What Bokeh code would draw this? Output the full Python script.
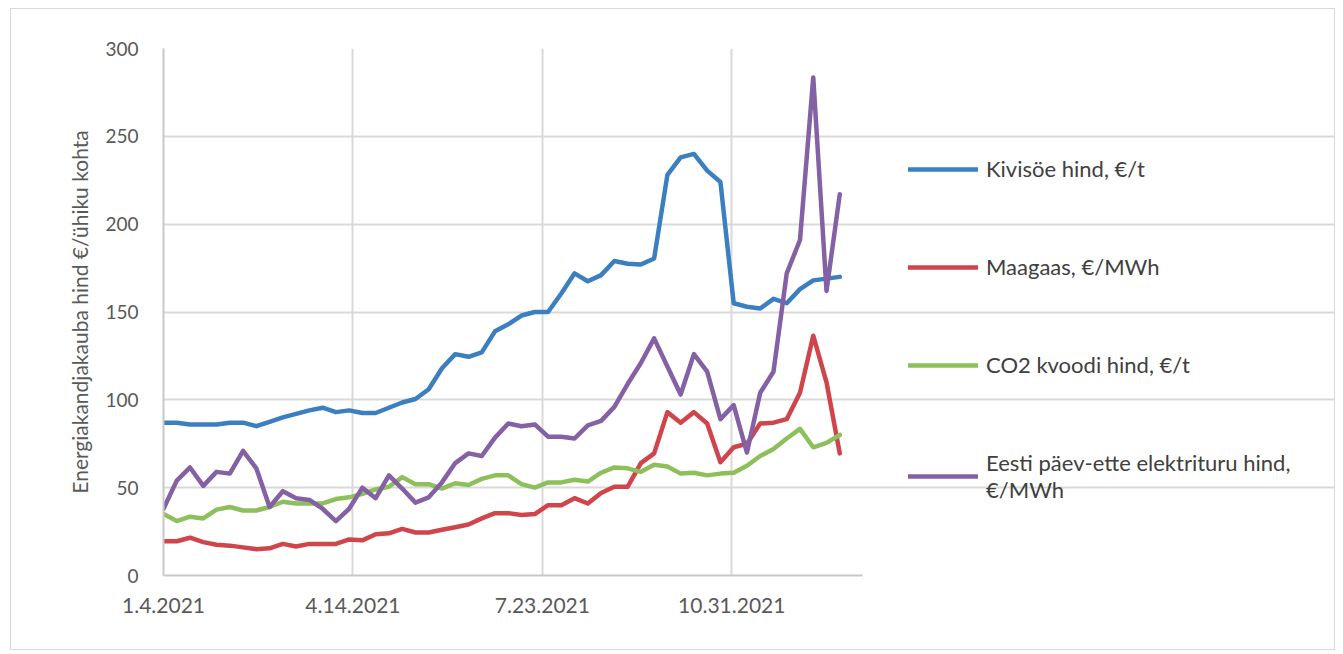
import pandas as pd
from bokeh.plotting import figure
from bokeh.models import Range1d, FixedTicker, Legend, LegendItem, ColumnDataSource
from bokeh.embed import file_html
from bokeh.resources import INLINE

# ---- data (weekly) ----
dates = pd.date_range("2021-01-04", periods=52, freq="7D")

coal = [87, 87, 86, 86, 86, 87, 87, 85, 87.5, 90,
        92, 94, 95.5, 93, 94, 92.5, 92.5, 95.5, 98.5, 100.5,
        106, 118, 126, 124.5, 127, 139, 143, 148, 150, 150,
        160.5, 172, 167.5, 171, 179, 177.5, 177, 180.5, 228, 238,
        240, 230.5, 224, 155, 153, 152, 157.5, 155, 163, 168,
        169, 170]
gas = [19.5, 19.5, 21.5, 19, 17.5, 17, 16, 15, 15.5, 18,
       16.5, 18, 18, 18, 20.5, 20, 23.5, 24, 26.5, 24.5,
       24.5, 26, 27.5, 29, 32.5, 35.5, 35.5, 34.5, 35, 40,
       40, 44, 41, 47, 50.5, 50.5, 64, 69.5, 93, 87,
       93, 86.5, 64.5, 73, 75, 86.5, 87, 89, 104, 136.5,
       110, 69.5]
co2 = [35, 31, 33.5, 32.5, 37.5, 39, 37, 37, 39, 42,
       41, 41, 41, 43.5, 44.5, 46.5, 49, 50.5, 56, 52,
       52, 49.5, 52.5, 51.5, 55, 57, 57, 52, 50, 53,
       53, 54.5, 53.5, 58.5, 61.5, 61, 59, 63, 62, 58,
       58.5, 57, 58, 58.5, 62.5, 68, 72, 78, 83.5, 73,
       75.5, 80]
elec = [38, 54, 61.5, 51, 59, 58, 71, 61, 39, 48,
        44, 43, 38, 31, 38, 50, 44, 57, 49.5, 41.5,
        44.5, 53, 64, 69.5, 68, 78.5, 86.5, 85, 86, 79,
        79, 78, 85.5, 88, 96, 109, 121, 135, 119, 103,
        126, 116, 89, 97, 70, 104, 116, 172, 191, 283.5,
        162, 217]

series_names = ["Kivisöe hind, €/t", "Maagaas, €/MWh", "CO2 kvoodi hind, €/t",
                "Eesti päev-ette elektrituru hind,\n€/MWh"]
series_values = [coal, gas, co2, elec]
colors = ["#3C7FC0", "#D0454C", "#8DC05A", "#8461A4"]

y_ticks = [0, 50, 100, 150, 200, 250, 300]
x_tick_days = [0, 100, 200, 300]
x_tick_labels = ["1.4.2021", "4.14.2021", "7.23.2021", "10.31.2021"]
y_title = "Energiakandjakauba hind €/ühiku kohta"

FONT = "Lato"
TXT = "#595959"

days = [(d - dates[0]).days for d in dates]
AXIS_END = 369          # last day shown on the date axis
PX_PER_DAY = 699 / AXIS_END
FRAME_W = 1173          # frame also hosts the legend on its right side

p = figure(width=1325, height=642, output_backend="svg", toolbar_location=None,
           x_range=Range1d(0, FRAME_W / PX_PER_DAY), y_range=Range1d(0, 300),
           min_border_left=152, min_border_right=0,
           min_border_top=39, min_border_bottom=76)
p.outline_line_color = None
p.background_fill_color = "white"
p.border_fill_color = "white"

items = []
for name, vals, col in zip(series_names, series_values, colors):
    src = ColumnDataSource(dict(x=days, y=vals))
    r = p.line("x", "y", source=src, line_color=col, line_width=4.5,
               line_join="round", line_cap="round")
    items.append(LegendItem(label=name, renderers=[r]))

# axes
p.xaxis.ticker = FixedTicker(ticks=x_tick_days)
p.xaxis.major_label_overrides = {d: l for d, l in zip(x_tick_days, x_tick_labels)}
p.xaxis.bounds = (0, AXIS_END)
p.yaxis.ticker = FixedTicker(ticks=y_ticks)
for ax in (p.xaxis[0], p.yaxis[0]):
    ax.axis_line_color = "#c8c8c8"
    ax.axis_line_width = 2
    ax.major_tick_line_color = None
    ax.minor_tick_line_color = None
    ax.major_label_text_font = FONT
    ax.major_label_text_color = TXT
p.xaxis.major_label_text_font_size = "21px"
p.yaxis.major_label_text_font_size = "19px"
p.xaxis.major_label_standoff = 16
p.yaxis.major_label_standoff = 19
p.yaxis.axis_label = y_title
p.yaxis.axis_label_text_font = FONT
p.yaxis.axis_label_text_font_size = "21px"
p.yaxis.axis_label_text_font_style = "normal"
p.yaxis.axis_label_text_color = TXT
p.yaxis.axis_label_standoff = 10

p.xgrid.ticker = FixedTicker(ticks=x_tick_days)
p.ygrid.ticker = FixedTicker(ticks=y_ticks)
p.ygrid.bounds = (0, AXIS_END)
for g in (p.xgrid[0], p.ygrid[0]):
    g.grid_line_color = "#d9d9d9"
    g.grid_line_width = 2

legend = Legend(items=items, location=(745, 72),
                label_text_font=FONT, label_text_font_size="22px",
                label_text_color="#404040",
                glyph_width=70, glyph_height=26, label_height=26,
                label_standoff=8, spacing=71, padding=0, margin=0,
                border_line_alpha=0, background_fill_alpha=0)
p.add_layout(legend, "center")

p.styles = {"border": "1px solid #d9d9d9", "margin-left": "10px", "margin-top": "8px"}

open("out.html", "w").write(file_html(p, INLINE))
